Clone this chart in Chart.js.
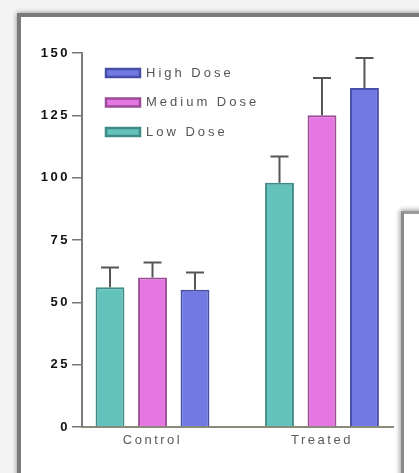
<!DOCTYPE html>
<html>
<head>
<meta charset="utf-8">
<script src="https://cdn.jsdelivr.net/npm/chart.js@4.4.1/dist/chart.umd.min.js"></script>
<style>
  body { margin: 0; background: #f3f3f3; width: 419px; height: 473px; overflow: hidden; position: relative; }
  .frame { position: absolute; left: 17px; top: 13px; width: 430px; height: 480px; background: #fff;
           border-left: 4px solid #7a7a7a; border-top: 4px solid #7a7a7a; box-shadow: 0 0 5px rgba(0,0,0,0.45); filter: blur(0.6px); }
  .panel { position: absolute; left: 401px; top: 211px; width: 40px; height: 300px; background: #fff;
           border-left: 3px solid #8a8a8a; border-top: 3px solid #9a9a9a; box-shadow: -1px -1px 5px rgba(0,0,0,0.4); z-index: 3; filter: blur(0.6px); }
  #mycan1 { position: absolute; left: 0; top: 0; z-index: 2; filter: blur(0.5px); }
</style>
</head>
<body>
<div class="frame"></div>
<canvas id="mycan1" width="419" height="473"></canvas>
<div class="panel"></div>
<script>
// groups on the x axis
var groups = ['Control', 'Treated'];
// series, left to right within a group
var seriesNames = ['Low Dose', 'Medium Dose', 'High Dose'];
var lowDose = [56, 98];
var mediumDose = [60, 125];
var highDose = [55, 136];
// upper error bars
var lowErr = [8, 10.5];
var mediumErr = [6, 15];
var highErr = [7, 12];
var yTicks = [0, 25, 50, 75, 100, 125, 150];

var fills = ['#63c2bc', '#e677e2', '#7179e2'];
var edges = ['#3f8c86', '#9c4c98', '#474fa8'];
var values = [lowDose, mediumDose, highDose];
var errs = [lowErr, mediumErr, highErr];

var datasets = [];
for (var d = 0; d < values.length; d++) {
  datasets.push({
    label: seriesNames[d],
    data: values[d].map(function(v, i){ return {x: i, y: v}; }),
    backgroundColor: fills[d],
    borderColor: edges[d],
    borderWidth: 2,
    categoryPercentage: 0.752,
    barPercentage: 0.68
  });
}

var errorBars = {
  id: 'errorBars',
  afterDatasetsDraw: function(chart) {
    var ctx = chart.ctx;
    var ys = chart.scales.y;
    ctx.save();
    ctx.strokeStyle = '#555';
    ctx.lineWidth = 2;
    chart.data.datasets.forEach(function(ds, d) {
      var meta = chart.getDatasetMeta(d);
      meta.data.forEach(function(bar, i) {
        var top = ys.getPixelForValue(ds.data[i].y + errs[d][i]);
        ctx.beginPath();
        ctx.moveTo(bar.x, bar.y);
        ctx.lineTo(bar.x, top);
        ctx.moveTo(bar.x - 9, top);
        ctx.lineTo(bar.x + 9, top);
        ctx.stroke();
      });
    });
    ctx.restore();
  }
};

var legendBox = {
  id: 'legendBox',
  afterDraw: function(chart) {
    var ctx = chart.ctx;
    ctx.save();
    ctx.letterSpacing = '3px';
    ctx.font = '13px "Liberation Sans", Arial, sans-serif';
    ctx.textBaseline = 'middle';
    var k = 0;
    for (var d = chart.data.datasets.length - 1; d >= 0; d--) {
      var ds = chart.data.datasets[d];
      var y = 73 + k * 29.5;
      ctx.fillStyle = ds.backgroundColor;
      ctx.strokeStyle = ds.borderColor;
      ctx.lineWidth = 2.5;
      ctx.fillRect(106, y - 4, 34, 8);
      ctx.strokeRect(106, y - 4, 34, 8);
      ctx.fillStyle = '#555';
      ctx.fillText(ds.label, 146, y);
      k++;
    }
    ctx.restore();
  }
};

var spacing = {
  id: 'spacing',
  beforeDraw: function(chart) { chart.ctx.letterSpacing = '2.5px'; }
};

var ctx = document.getElementById('mycan1');
var bargraph = new Chart(ctx, {
  type: 'bar',
  data: { datasets: datasets },
  plugins: [spacing, errorBars, legendBox],
  options: {
    responsive: false,
    devicePixelRatio: 1,
    animation: false,
    layout: { padding: { top: 53, right: 26, left: 0, bottom: 0 } },
    plugins: { legend: { display: false }, tooltip: { enabled: false } },
    scales: {
      x: {
        type: 'linear',
        offset: false,
        min: -0.416,
        max: 1.419,
        afterBuildTicks: function(scale) {
          scale.ticks = groups.map(function(g, i){ return {value: i}; });
        },
        afterFit: function(scale) { scale.height = 46; },
        ticks: {
          callback: function(v) { return groups[v]; },
          color: '#5a5a5a',
          font: { family: '"Liberation Sans", Arial, sans-serif', size: 13 },
          padding: 6,
          maxRotation: 0
        },
        grid: { offset: false, drawOnChartArea: false, drawTicks: false },
        border: { color: '#8a8a7a', width: 2 }
      },
      y: {
        min: 0,
        max: 150,
        afterBuildTicks: function(scale) {
          scale.ticks = yTicks.map(function(v){ return {value: v}; });
        },
        afterFit: function(scale) { scale.width = 82; },
        ticks: {
          color: '#111',
          font: { family: '"Liberation Sans", Arial, sans-serif', size: 13, weight: 'bold' },
          padding: 2
        },
        grid: { drawOnChartArea: false, tickLength: 10, tickColor: '#777', lineWidth: 1.5 },
        border: { color: '#7a7a7a', width: 2 }
      }
    }
  }
});
</script>
</body>
</html>
